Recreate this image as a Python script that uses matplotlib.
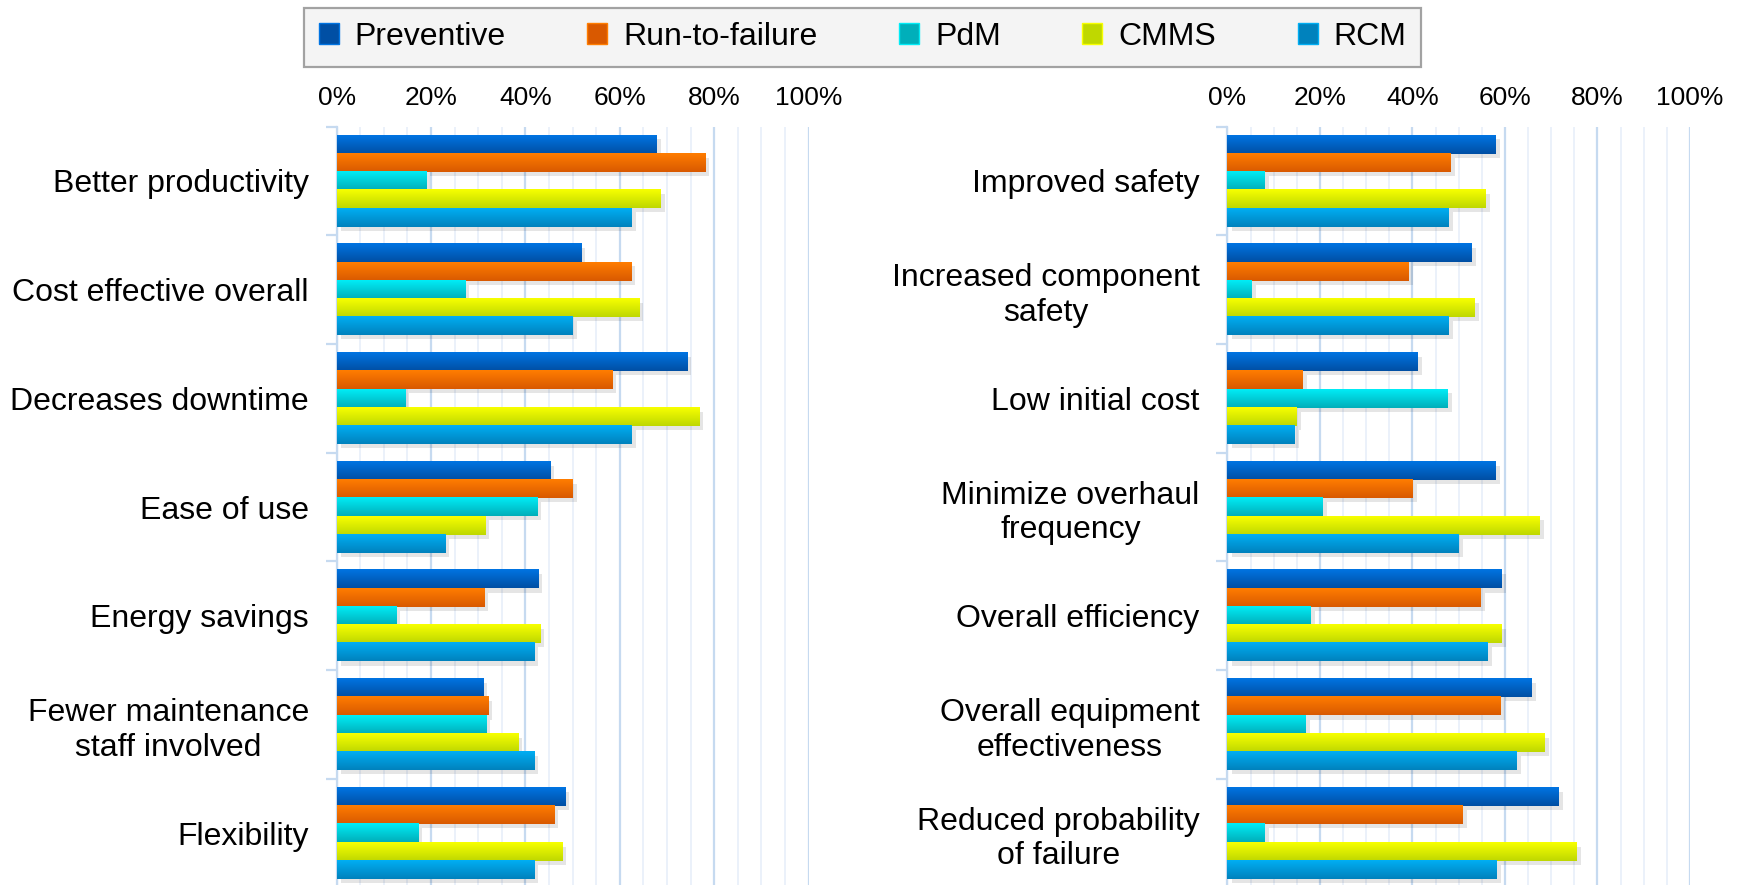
import numpy as np
import matplotlib
matplotlib.use("Agg")
import matplotlib.pyplot as plt
import matplotlib.transforms as mtransforms
from matplotlib.colors import to_rgb
from matplotlib.patches import Patch
from matplotlib.ticker import FixedLocator, MultipleLocator, PercentFormatter

plt.rcParams["font.family"] = ["Liberation Sans", "DejaVu Sans"]

SERIES = ["Preventive", "Run-to-failure", "PdM", "CMMS", "RCM"]

LEFT_CATS = [
    "Better productivity",
    "Cost effective overall",
    "Decreases downtime",
    "Ease of use",
    "Energy savings",
    "Fewer maintenance\nstaff involved",
    "Flexibility",
]
LEFT_PREVENTIVE = [67.8, 51.7, 74.2, 45.2, 42.7, 31.0, 48.4]
LEFT_RUN_TO_FAILURE = [78.0, 62.3, 58.3, 50.0, 31.2, 32.1, 46.0]
LEFT_PDM = [18.9, 27.2, 14.5, 42.4, 12.6, 31.6, 17.2]
LEFT_CMMS = [68.6, 64.0, 76.8, 31.4, 43.1, 38.4, 47.7]
LEFT_RCM = [62.5, 50.0, 62.5, 22.9, 41.8, 41.8, 41.8]

RIGHT_CATS = [
    "Improved safety",
    "Increased component\nsafety",
    "Low initial cost",
    "Minimize overhaul\nfrequency",
    "Overall efficiency",
    "Overall equipment\neffectiveness",
    "Reduced probability\nof failure",
]
RIGHT_PREVENTIVE = [58.1, 52.9, 41.2, 58.1, 59.4, 65.9, 71.7]
RIGHT_RUN_TO_FAILURE = [48.3, 39.3, 16.4, 40.1, 54.8, 59.1, 50.9]
RIGHT_PDM = [8.1, 5.3, 47.7, 20.7, 18.1, 17.0, 8.1]
RIGHT_CMMS = [55.9, 53.5, 15.1, 67.6, 59.4, 68.7, 75.6]
RIGHT_RCM = [47.9, 47.9, 14.6, 50.1, 56.3, 62.6, 58.3]

# (top, bottom) of the vertical shading on each bar
GRADIENTS = [
    ("#0074e2", "#004fa4"),
    ("#ff7d00", "#d95900"),
    ("#00ecf6", "#00afba"),
    ("#f7ff00", "#bfd800"),
    ("#00aef3", "#0082bd"),
]
GRID_MAJOR = "#c6daf0"
GRID_MINOR = "#e7eff9"

fig = plt.figure(figsize=(17.39, 8.85), dpi=100)


def gradient_image(top, bottom, n=32):
    t = np.linspace(0, 1, n)[:, None, None]
    return (1 - t) * np.array(to_rgb(top)) + t * np.array(to_rgb(bottom))


def panel(rect, cats, values):
    ax = fig.add_axes(rect)
    y = np.arange(len(cats))
    h = 0.168
    shadow = ax.transData + mtransforms.ScaledTranslation(3 / 72, -3 / 72, fig.dpi_scale_trans)
    for i, (vals, (top, bottom)) in enumerate(zip(values, GRADIENTS)):
        pos = y + (i - 2) * h
        ax.barh(pos, vals, height=h, color="#000000", alpha=0.1,
                transform=shadow, zorder=2, linewidth=0)
        bars = ax.barh(pos, vals, height=h, color=bottom, zorder=3, linewidth=0)
        img = gradient_image(top, bottom)
        for b in bars:
            x0, y0, w, hh = b.get_x(), b.get_y(), b.get_width(), b.get_height()
            ax.imshow(img, extent=(x0, x0 + w, y0 + hh, y0), aspect="auto",
                      interpolation="bilinear", zorder=4)

    ax.set_xlim(0, 100)
    ax.set_ylim(len(cats) - 0.5, -0.5)
    ax.xaxis.tick_top()
    ax.xaxis.set_major_locator(MultipleLocator(20))
    ax.xaxis.set_minor_locator(MultipleLocator(5))
    ax.xaxis.set_major_formatter(PercentFormatter(decimals=0))
    ax.grid(axis="x", which="major", color=GRID_MAJOR, lw=1.6, zorder=0)
    ax.grid(axis="x", which="minor", color=GRID_MINOR, lw=1.2, zorder=0)
    ax.set_axisbelow(True)
    ax.tick_params(axis="x", which="both", length=0, pad=12, labelsize=19)

    ax.set_yticks(y)
    ax.set_yticklabels(cats)
    for lab in ax.get_yticklabels():
        lab.set_multialignment("center")
    ax.yaxis.set_minor_locator(FixedLocator(np.arange(-0.5, len(cats), 1)))
    ax.tick_params(axis="y", which="major", length=0, pad=20, labelsize=23)
    ax.tick_params(axis="y", which="minor", length=8, width=1.6, color=GRID_MAJOR)

    for side in ["top", "right", "bottom"]:
        ax.spines[side].set_visible(False)
    ax.spines["left"].set_color(GRID_MAJOR)
    ax.spines["left"].set_linewidth(1.6)
    return ax


panel([0.1936, -0.003, 0.2714, 0.860], LEFT_CATS,
      [LEFT_PREVENTIVE, LEFT_RUN_TO_FAILURE, LEFT_PDM, LEFT_CMMS, LEFT_RCM])
panel([0.7058, -0.003, 0.2660, 0.860], RIGHT_CATS,
      [RIGHT_PREVENTIVE, RIGHT_RUN_TO_FAILURE, RIGHT_PDM, RIGHT_CMMS, RIGHT_RCM])

handles = [Patch(facecolor=bottom, edgecolor=top, linewidth=1) for top, bottom in GRADIENTS]
leg = fig.legend(handles, SERIES, loc="center", bbox_to_anchor=(0.496, 0.958),
                 ncol=5, fontsize=23, frameon=True, fancybox=False,
                 handlelength=0.63, handleheight=0.63, handletextpad=0.5,
                 columnspacing=2.55, borderpad=0.45)
leg.get_frame().set_facecolor("#f2f2f2")
leg.get_frame().set_edgecolor("#8c8c8c")
leg.get_frame().set_linewidth(1.6)

fig.savefig("out.png", dpi=100)
